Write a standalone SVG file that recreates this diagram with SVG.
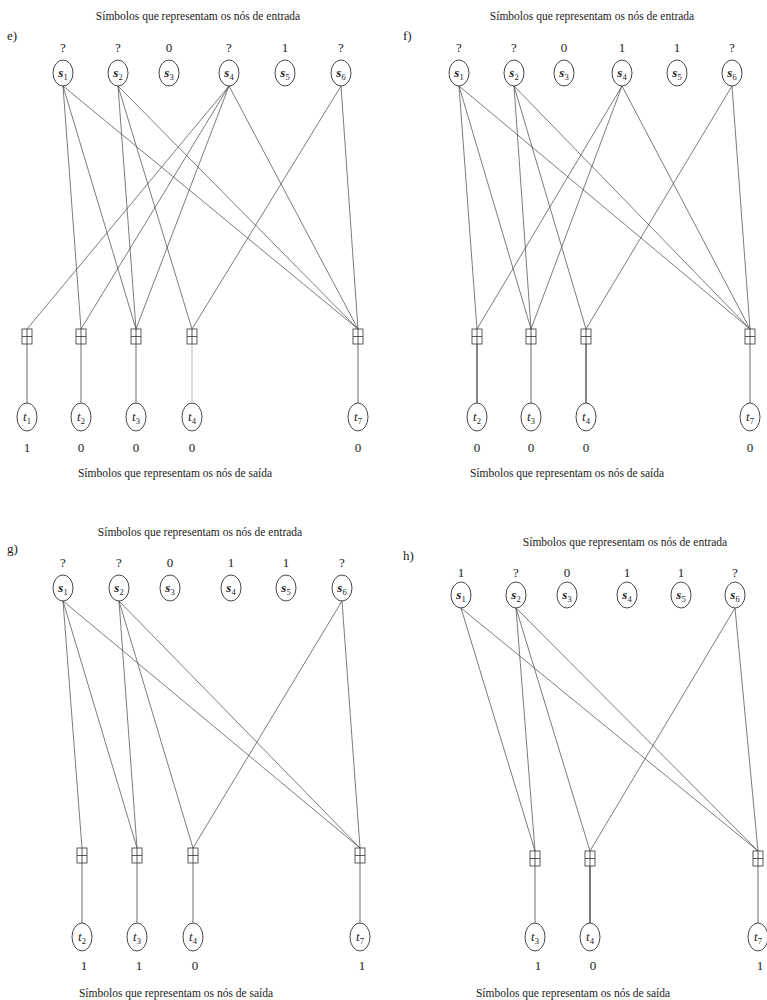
<svg xmlns="http://www.w3.org/2000/svg" width="767" height="1000" viewBox="0 0 767 1000">
<style>
text{font-family:"Liberation Serif","DejaVu Serif",serif;fill:#222}
.ttl{font-size:11.5px;text-anchor:middle}
.pl{font-size:13px}
.v{font-size:13px;text-anchor:middle}
.nl{font-size:13px;font-style:italic;text-anchor:middle}
.sn{font-weight:bold}
.sb{font-size:8.5px;font-style:normal;font-weight:normal}
.nd{fill:#fff;stroke:#333;stroke-width:0.9}
.gb{fill:#fff;stroke:#333;stroke-width:0.8}
.ed{stroke:#444;stroke-width:0.7;fill:none}
.vt{stroke:#444;stroke-width:0.8;fill:none}
</style>
<defs>
<g id="gate"><rect class="gb" x="-5" y="0" width="10" height="15"/><line class="gb" x1="-5" y1="7.5" x2="5" y2="7.5"/><line class="gb" x1="0" y1="0" x2="0" y2="15"/></g>
</defs>

<!-- ================= PANEL E ================= -->
<g id="panel-e">
<text class="ttl" x="198" y="20">Símbolos que representam os nós de entrada</text>
<text class="pl" x="7" y="40">e)</text>
<text class="ttl" x="175" y="477">Símbolos que representam os nós de saída</text>
<g id="e-connectors">
<line class="ed" x1="63" y1="86" x2="81" y2="329"/>
<line class="ed" x1="63" y1="86" x2="136" y2="329"/>
<line class="ed" x1="63" y1="86" x2="358" y2="329"/>
<line class="ed" x1="118" y1="86" x2="136" y2="329"/>
<line class="ed" x1="118" y1="86" x2="192" y2="329"/>
<line class="ed" x1="118" y1="86" x2="358" y2="329"/>
<line class="ed" x1="229" y1="86" x2="27" y2="329"/>
<line class="ed" x1="229" y1="86" x2="81" y2="329"/>
<line class="ed" x1="229" y1="86" x2="136" y2="329"/>
<line class="ed" x1="229" y1="86" x2="358" y2="329"/>
<line class="ed" x1="341" y1="86" x2="192" y2="329"/>
<line class="ed" x1="341" y1="86" x2="358" y2="329"/>
<line class="vt" x1="27" y1="344" x2="27" y2="403"/>
<line class="vt" x1="81" y1="344" x2="81" y2="403"/>
<line class="vt" x1="136" y1="344" x2="136" y2="403"/>
<line class="vt" x1="192" y1="344" x2="192" y2="403" stroke="#aaa" style="stroke:#aaa"/>
<line class="vt" x1="358" y1="344" x2="358" y2="403"/>
</g>
<g id="e-s1"><text class="v" x="63" y="52">?</text><ellipse class="nd" cx="63" cy="73" rx="10" ry="13"/><text class="nl sn" x="63" y="77">s<tspan class="sb" dy="3">1</tspan></text></g>
<g id="e-s2"><text class="v" x="118" y="52">?</text><ellipse class="nd" cx="118" cy="73" rx="10" ry="13"/><text class="nl sn" x="118" y="77">s<tspan class="sb" dy="3">2</tspan></text></g>
<g id="e-s3"><text class="v" x="169" y="52">0</text><ellipse class="nd" cx="169" cy="73" rx="10" ry="13"/><text class="nl sn" x="169" y="77">s<tspan class="sb" dy="3">3</tspan></text></g>
<g id="e-s4"><text class="v" x="229" y="52">?</text><ellipse class="nd" cx="229" cy="73" rx="10" ry="13"/><text class="nl sn" x="229" y="77">s<tspan class="sb" dy="3">4</tspan></text></g>
<g id="e-s5"><text class="v" x="285" y="52">1</text><ellipse class="nd" cx="285" cy="73" rx="10" ry="13"/><text class="nl sn" x="285" y="77">s<tspan class="sb" dy="3">5</tspan></text></g>
<g id="e-s6"><text class="v" x="341" y="52">?</text><ellipse class="nd" cx="341" cy="73" rx="10" ry="13"/><text class="nl sn" x="341" y="77">s<tspan class="sb" dy="3">6</tspan></text></g>
<g id="e-g1"><use href="#gate" x="27" y="329"/></g>
<g id="e-g2"><use href="#gate" x="81" y="329"/></g>
<g id="e-g3"><use href="#gate" x="136" y="329"/></g>
<g id="e-g4"><use href="#gate" x="192" y="329"/></g>
<g id="e-g7"><use href="#gate" x="358" y="329"/></g>
<g id="e-t1"><ellipse class="nd" cx="27" cy="417" rx="10" ry="14"/><text class="nl" x="27" y="421">t<tspan class="sb" dy="3">1</tspan></text><text class="v" x="27" y="452">1</text></g>
<g id="e-t2"><ellipse class="nd" cx="81" cy="417" rx="10" ry="14"/><text class="nl" x="81" y="421">t<tspan class="sb" dy="3">2</tspan></text><text class="v" x="81" y="452">0</text></g>
<g id="e-t3"><ellipse class="nd" cx="136" cy="417" rx="10" ry="14"/><text class="nl" x="136" y="421">t<tspan class="sb" dy="3">3</tspan></text><text class="v" x="136" y="452">0</text></g>
<g id="e-t4"><ellipse class="nd" cx="192" cy="417" rx="10" ry="14"/><text class="nl" x="192" y="421">t<tspan class="sb" dy="3">4</tspan></text><text class="v" x="192" y="452">0</text></g>
<g id="e-t7"><ellipse class="nd" cx="358" cy="417" rx="10" ry="14"/><text class="nl" x="358" y="421">t<tspan class="sb" dy="3">7</tspan></text><text class="v" x="358" y="452">0</text></g>
</g>

<!-- ================= PANEL F ================= -->
<g id="panel-f">
<text class="ttl" x="592" y="20">Símbolos que representam os nós de entrada</text>
<text class="pl" x="403" y="40">f)</text>
<text class="ttl" x="567" y="477">Símbolos que representam os nós de saída</text>
<g id="f-connectors">
<line class="ed" x1="459" y1="86" x2="477" y2="329"/>
<line class="ed" x1="459" y1="86" x2="531" y2="329"/>
<line class="ed" x1="459" y1="86" x2="750" y2="329"/>
<line class="ed" x1="514" y1="86" x2="531" y2="329"/>
<line class="ed" x1="514" y1="86" x2="586" y2="329"/>
<line class="ed" x1="514" y1="86" x2="750" y2="329"/>
<line class="ed" x1="622" y1="86" x2="477" y2="329"/>
<line class="ed" x1="622" y1="86" x2="531" y2="329"/>
<line class="ed" x1="622" y1="86" x2="750" y2="329"/>
<line class="ed" x1="732" y1="86" x2="586" y2="329"/>
<line class="ed" x1="732" y1="86" x2="750" y2="329"/>
<line class="vt" x1="477" y1="344" x2="477" y2="403" style="stroke:#222;stroke-width:1.1"/>
<line class="vt" x1="531" y1="344" x2="531" y2="403"/>
<line class="vt" x1="586" y1="344" x2="586" y2="403" style="stroke:#222;stroke-width:1.1"/>
<line class="vt" x1="750" y1="344" x2="750" y2="403"/>
</g>
<g id="f-s1"><text class="v" x="459" y="52">?</text><ellipse class="nd" cx="459" cy="73" rx="10" ry="13"/><text class="nl sn" x="459" y="77">s<tspan class="sb" dy="3">1</tspan></text></g>
<g id="f-s2"><text class="v" x="514" y="52">?</text><ellipse class="nd" cx="514" cy="73" rx="10" ry="13"/><text class="nl sn" x="514" y="77">s<tspan class="sb" dy="3">2</tspan></text></g>
<g id="f-s3"><text class="v" x="564" y="52">0</text><ellipse class="nd" cx="564" cy="73" rx="10" ry="13"/><text class="nl sn" x="564" y="77">s<tspan class="sb" dy="3">3</tspan></text></g>
<g id="f-s4"><text class="v" x="622" y="52">1</text><ellipse class="nd" cx="622" cy="73" rx="10" ry="13"/><text class="nl sn" x="622" y="77">s<tspan class="sb" dy="3">4</tspan></text></g>
<g id="f-s5"><text class="v" x="677" y="52">1</text><ellipse class="nd" cx="677" cy="73" rx="10" ry="13"/><text class="nl sn" x="677" y="77">s<tspan class="sb" dy="3">5</tspan></text></g>
<g id="f-s6"><text class="v" x="732" y="52">?</text><ellipse class="nd" cx="732" cy="73" rx="10" ry="13"/><text class="nl sn" x="732" y="77">s<tspan class="sb" dy="3">6</tspan></text></g>
<g id="f-g2"><use href="#gate" x="477" y="329"/></g>
<g id="f-g3"><use href="#gate" x="531" y="329"/></g>
<g id="f-g4"><use href="#gate" x="586" y="329"/></g>
<g id="f-g7"><use href="#gate" x="750" y="329"/></g>
<g id="f-t2"><ellipse class="nd" cx="477" cy="417" rx="10" ry="14"/><text class="nl" x="477" y="421">t<tspan class="sb" dy="3">2</tspan></text><text class="v" x="477" y="452">0</text></g>
<g id="f-t3"><ellipse class="nd" cx="531" cy="417" rx="10" ry="14"/><text class="nl" x="531" y="421">t<tspan class="sb" dy="3">3</tspan></text><text class="v" x="531" y="452">0</text></g>
<g id="f-t4"><ellipse class="nd" cx="586" cy="417" rx="10" ry="14"/><text class="nl" x="586" y="421">t<tspan class="sb" dy="3">4</tspan></text><text class="v" x="586" y="452">0</text></g>
<g id="f-t7"><ellipse class="nd" cx="750" cy="417" rx="10" ry="14"/><text class="nl" x="750" y="421">t<tspan class="sb" dy="3">7</tspan></text><text class="v" x="750" y="452">0</text></g>
</g>

<!-- ================= PANEL G ================= -->
<g id="panel-g">
<text class="ttl" x="200" y="536">Símbolos que representam os nós de entrada</text>
<text class="pl" x="7" y="553">g)</text>
<text class="ttl" x="176" y="997">Símbolos que representam os nós de saída</text>
<g id="g-connectors">
<line class="ed" x1="63" y1="601" x2="82" y2="848"/>
<line class="ed" x1="63" y1="601" x2="137" y2="848"/>
<line class="ed" x1="63" y1="601" x2="360" y2="848"/>
<line class="ed" x1="119" y1="601" x2="137" y2="848"/>
<line class="ed" x1="119" y1="601" x2="193" y2="848"/>
<line class="ed" x1="119" y1="601" x2="360" y2="848"/>
<line class="ed" x1="342" y1="601" x2="193" y2="848"/>
<line class="ed" x1="342" y1="601" x2="360" y2="848"/>
<line class="vt" x1="82" y1="863" x2="82" y2="923"/>
<line class="vt" x1="137" y1="863" x2="137" y2="923"/>
<line class="vt" x1="193" y1="863" x2="193" y2="923"/>
<line class="vt" x1="360" y1="863" x2="360" y2="923"/>
</g>
<g id="g-s1"><text class="v" x="63" y="567">?</text><ellipse class="nd" cx="63" cy="588" rx="10" ry="13"/><text class="nl sn" x="63" y="592">s<tspan class="sb" dy="3">1</tspan></text></g>
<g id="g-s2"><text class="v" x="119" y="567">?</text><ellipse class="nd" cx="119" cy="588" rx="10" ry="13"/><text class="nl sn" x="119" y="592">s<tspan class="sb" dy="3">2</tspan></text></g>
<g id="g-s3"><text class="v" x="170" y="567">0</text><ellipse class="nd" cx="170" cy="588" rx="10" ry="13"/><text class="nl sn" x="170" y="592">s<tspan class="sb" dy="3">3</tspan></text></g>
<g id="g-s4"><text class="v" x="231" y="567">1</text><ellipse class="nd" cx="231" cy="588" rx="10" ry="13"/><text class="nl sn" x="231" y="592">s<tspan class="sb" dy="3">4</tspan></text></g>
<g id="g-s5"><text class="v" x="286" y="567">1</text><ellipse class="nd" cx="286" cy="588" rx="10" ry="13"/><text class="nl sn" x="286" y="592">s<tspan class="sb" dy="3">5</tspan></text></g>
<g id="g-s6"><text class="v" x="342" y="567">?</text><ellipse class="nd" cx="342" cy="588" rx="10" ry="13"/><text class="nl sn" x="342" y="592">s<tspan class="sb" dy="3">6</tspan></text></g>
<g id="g-g2"><use href="#gate" x="82" y="848"/></g>
<g id="g-g3"><use href="#gate" x="137" y="848"/></g>
<g id="g-g4"><use href="#gate" x="193" y="848"/></g>
<g id="g-g7"><use href="#gate" x="360" y="848"/></g>
<g id="g-t2"><ellipse class="nd" cx="82" cy="937" rx="10" ry="14"/><text class="nl" x="82" y="941">t<tspan class="sb" dy="3">2</tspan></text><text class="v" x="84" y="970">1</text></g>
<g id="g-t3"><ellipse class="nd" cx="137" cy="937" rx="10" ry="14"/><text class="nl" x="137" y="941">t<tspan class="sb" dy="3">3</tspan></text><text class="v" x="139" y="970">1</text></g>
<g id="g-t4"><ellipse class="nd" cx="193" cy="937" rx="10" ry="14"/><text class="nl" x="193" y="941">t<tspan class="sb" dy="3">4</tspan></text><text class="v" x="195" y="970">0</text></g>
<g id="g-t7"><ellipse class="nd" cx="360" cy="937" rx="10" ry="14"/><text class="nl" x="360" y="941">t<tspan class="sb" dy="3">7</tspan></text><text class="v" x="362" y="970">1</text></g>
</g>

<!-- ================= PANEL H ================= -->
<g id="panel-h">
<text class="ttl" x="625" y="546">Símbolos que representam os nós de entrada</text>
<text class="pl" x="403" y="560">h)</text>
<text class="ttl" x="573" y="997">Símbolos que representam os nós de saída</text>
<g id="h-connectors">
<line class="ed" x1="461" y1="608" x2="535" y2="851"/>
<line class="ed" x1="461" y1="608" x2="758" y2="851"/>
<line class="ed" x1="516" y1="608" x2="535" y2="851"/>
<line class="ed" x1="516" y1="608" x2="590" y2="851"/>
<line class="ed" x1="516" y1="608" x2="758" y2="851"/>
<line class="ed" x1="735" y1="608" x2="590" y2="851"/>
<line class="ed" x1="735" y1="608" x2="758" y2="851"/>
<line class="vt" x1="535" y1="866" x2="535" y2="923"/>
<line class="vt" x1="590" y1="866" x2="590" y2="923" style="stroke:#222;stroke-width:1.2"/>
<line class="vt" x1="758" y1="866" x2="758" y2="923"/>
</g>
<g id="h-s1"><text class="v" x="461" y="577">1</text><ellipse class="nd" cx="461" cy="595" rx="10" ry="13"/><text class="nl sn" x="461" y="599">s<tspan class="sb" dy="3">1</tspan></text></g>
<g id="h-s2"><text class="v" x="516" y="577">?</text><ellipse class="nd" cx="516" cy="595" rx="10" ry="13"/><text class="nl sn" x="516" y="599">s<tspan class="sb" dy="3">2</tspan></text></g>
<g id="h-s3"><text class="v" x="567" y="577">0</text><ellipse class="nd" cx="567" cy="595" rx="10" ry="13"/><text class="nl sn" x="567" y="599">s<tspan class="sb" dy="3">3</tspan></text></g>
<g id="h-s4"><text class="v" x="627" y="577">1</text><ellipse class="nd" cx="627" cy="595" rx="10" ry="13"/><text class="nl sn" x="627" y="599">s<tspan class="sb" dy="3">4</tspan></text></g>
<g id="h-s5"><text class="v" x="681" y="577">1</text><ellipse class="nd" cx="681" cy="595" rx="10" ry="13"/><text class="nl sn" x="681" y="599">s<tspan class="sb" dy="3">5</tspan></text></g>
<g id="h-s6"><text class="v" x="735" y="577">?</text><ellipse class="nd" cx="735" cy="595" rx="10" ry="13"/><text class="nl sn" x="735" y="599">s<tspan class="sb" dy="3">6</tspan></text></g>
<g id="h-g3"><use href="#gate" x="535" y="851"/></g>
<g id="h-g4"><use href="#gate" x="590" y="851"/></g>
<g id="h-g7"><use href="#gate" x="758" y="851"/></g>
<g id="h-t3"><ellipse class="nd" cx="535" cy="937" rx="10" ry="14"/><text class="nl" x="535" y="941">t<tspan class="sb" dy="3">3</tspan></text><text class="v" x="538" y="970">1</text></g>
<g id="h-t4"><ellipse class="nd" cx="590" cy="937" rx="10" ry="14"/><text class="nl" x="590" y="941">t<tspan class="sb" dy="3">4</tspan></text><text class="v" x="593" y="970">0</text></g>
<g id="h-t7"><ellipse class="nd" cx="758" cy="937" rx="10" ry="14"/><text class="nl" x="758" y="941">t<tspan class="sb" dy="3">7</tspan></text><text class="v" x="760" y="970">1</text></g>
</g>
</svg>
